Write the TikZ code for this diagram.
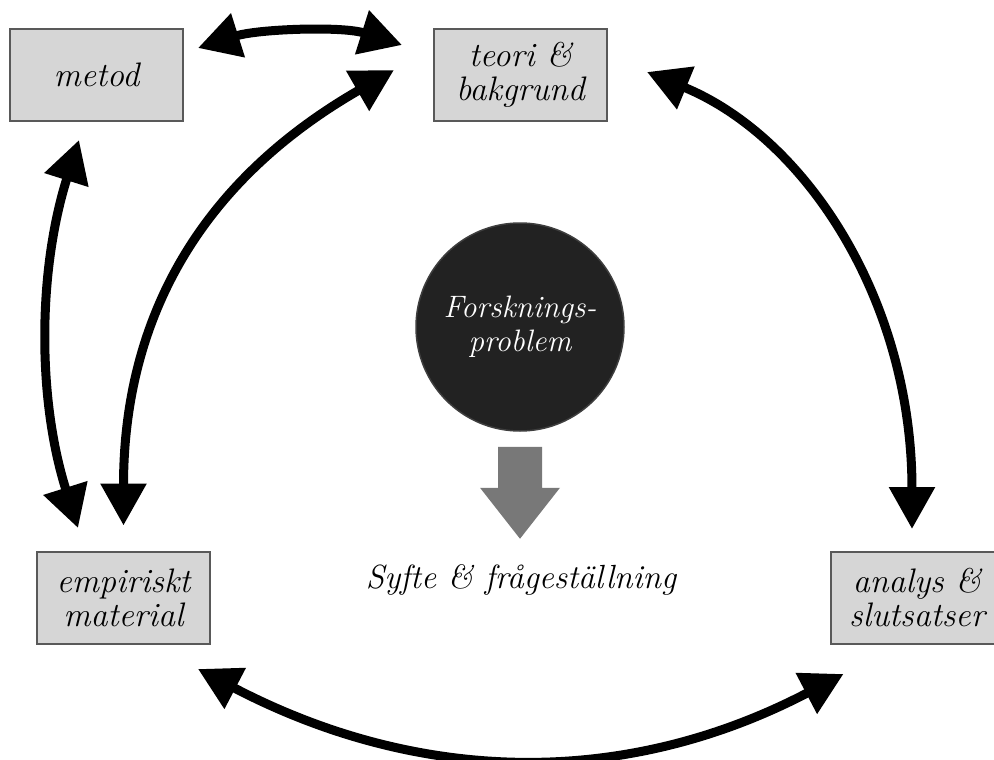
\documentclass[tikz,border=0pt]{standalone}
\usepackage{fontspec}
\usetikzlibrary{arrows.meta,calc}
\definecolor{ruta}{HTML}{D6D6D6}
\definecolor{kant}{HTML}{595959}
\definecolor{cirkel}{HTML}{222222}
\definecolor{pilgra}{HTML}{787878}

\begin{document}
\begin{tikzpicture}[x=1pt, y=-1pt,
  box/.style={draw=kant, line width=2pt, fill=ruta, minimum width=173pt,
    minimum height=92pt, inner sep=0pt, align=center,
    font=\fontsize{34}{34}\selectfont\itshape},
  pil/.style={line width=9pt,
    {Triangle[length=42pt,width=44pt]}-{Triangle[length=42pt,width=44pt]}}]

\useasboundingbox (0,0) rectangle (994,760);
\clip (0,0) rectangle (994,760);

\node[box] (metod) at (96.5,75) {metod};
\node[box] (teori) at (520.5,75) {teori \&\\bakgrund};
\node[box] (empiri) at (123.5,597.5) {empiriskt\\material};
\node[box] (analys) at (917,597.5) {analys \&\\slutsatser};

\node[circle, draw=kant!70!black, line width=1.5pt, fill=cirkel,
  minimum size=208pt, inner sep=0pt, text=white, align=center,
  font=\fontsize{31}{34}\selectfont\itshape] (problem) at (520,327)
  {Forsknings-\\problem};

\fill[pilgra] ([yshift=-15pt]problem.south) ++(-22,0) -- ++(44,0)
  -- ++(0,41) -- ++(18,0) -- ++(-40,51) -- ++(-40,-51) -- ++(18,0) -- cycle;

\node[anchor=base, font=\fontsize{33.5}{34}\selectfont\itshape] (syfte)
  at (521,588) {Syfte \& frågeställning};

\draw[pil] ($(metod.east)+(14,-27)$) .. controls +(60,-19) and +(-60,-19)
  .. ($(teori.west)+(-31,-30)$);
\draw[pil] ($(empiri.north)+(0,-25)$) .. controls +(0,-200) and +(-200,115)
  .. ($(teori.west)+(-39,-5)$);
\draw[pil] ($(metod.south)+(-17.5,18)$) .. controls +(-41,130) and +(-41,-130)
  .. ($(empiri.north)+(-45.5,-22.5)$);
\draw[pil] ($(teori.east)+(39,-3)$) .. controls +(158,65) and +(0,-230)
  .. ($(analys.north)+(-5,-21.5)$);
\draw[pil] ($(empiri.south east)+(-13,24.5)$) .. controls +(220,115) and +(-220,115)
  .. ($(analys.south west)+(14,29.5)$);

\end{tikzpicture}
\end{document}
